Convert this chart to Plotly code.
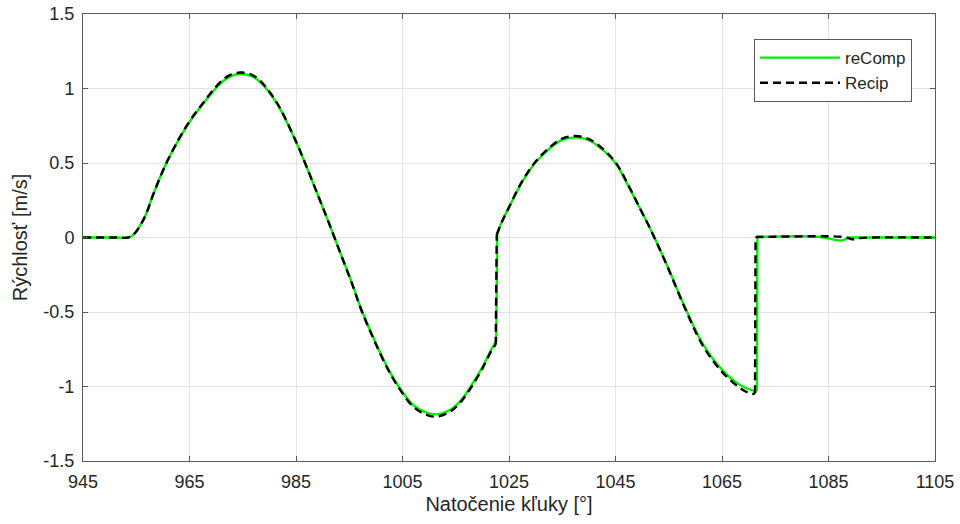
import plotly.graph_objects as go

# Crank angle [deg] and velocity [m/s]
angle_recomp = [945, 951.0, 953.5, 954.5, 956.5, 958.2, 960.4, 962.9, 965.1, 967.6, 970.7, 972.5,
                974.5, 976.5, 978.2, 981.4, 985.0, 987.6, 989.5, 991.1, 993.3, 995.5,
                997.3, 999.5, 1002.0, 1004.2, 1007.0, 1009.5, 1011.4, 1013.9, 1015.8, 1018.0,
                1020.0, 1022.0, 1022.6, 1022.8, 1023.6, 1025.1, 1026.8, 1028.3, 1029.9, 1032.7,
                1035.0, 1037.4, 1039.5, 1041.5, 1045.0, 1047.5, 1049.6, 1051.5, 1054.6, 1058.2,
                1061.5, 1065.1, 1068.4, 1070.9, 1071.55, 1071.65, 1072.3, 1083.0, 1087.5, 1089.0,
                1090.0, 1105]
vel_recomp = [0, 0, 0, 0.02, 0.13, 0.29, 0.48, 0.65, 0.78, 0.90, 1.03, 1.078,
              1.097, 1.085, 1.046, 0.90, 0.643, 0.42, 0.25, 0.105, -0.10, -0.305,
              -0.485, -0.67, -0.86, -0.995, -1.124, -1.176, -1.187, -1.158, -1.10, -0.99,
              -0.87, -0.73, -0.70, 0.02, 0.10, 0.21, 0.33, 0.42, 0.50, 0.60,
              0.655, 0.672, 0.66, 0.62, 0.498, 0.34, 0.195, 0.06, -0.18, -0.48,
              -0.72, -0.89, -0.99, -1.028, -1.03, 0.005, 0.005, 0.005, -0.02, 0.0,
              0.0, 0.0]

angle_recip = [945, 951.0, 953.5, 954.5, 956.5, 958.2, 960.4, 962.9, 965.1, 967.6, 970.7, 972.5,
               974.5, 976.5, 978.2, 981.4, 985.0, 987.6, 989.5, 991.1, 993.3, 995.5,
               997.3, 999.5, 1002.0, 1004.2, 1007.0, 1009.5, 1011.4, 1013.9, 1015.8, 1018.0,
               1020.0, 1022.0, 1022.5, 1022.7, 1023.6, 1025.1, 1026.8, 1028.3, 1029.9, 1032.7,
               1035.0, 1037.4, 1039.5, 1041.5, 1045.0, 1047.5, 1049.6, 1051.5, 1054.6, 1058.2,
               1061.5, 1065.1, 1068.4, 1070.6, 1071.2, 1071.3, 1072.0, 1088.0, 1089.5, 1091.0,
               1093.0, 1105]
vel_recip = [0, 0, 0, 0.02, 0.13, 0.29, 0.48, 0.655, 0.785, 0.905, 1.04, 1.088,
             1.107, 1.095, 1.055, 0.905, 0.645, 0.42, 0.25, 0.105, -0.102, -0.308,
             -0.49, -0.675, -0.867, -1.003, -1.135, -1.19, -1.202, -1.17, -1.11, -1.0,
             -0.88, -0.74, -0.72, 0.02, 0.10, 0.21, 0.335, 0.425, 0.505, 0.607,
             0.664, 0.681, 0.668, 0.628, 0.505, 0.345, 0.195, 0.06, -0.183, -0.487,
             -0.732, -0.905, -1.01, -1.05, -1.045, 0.003, 0.003, 0.003, -0.012, -0.003,
             0.0, 0.0]

x_ticks = [945, 965, 985, 1005, 1025, 1045, 1065, 1085, 1105]
y_ticks = [-1.5, -1, -0.5, 0, 0.5, 1, 1.5]
y_ticklabels = ["-1.5", "-1", "-0.5", "0", "0.5", "1", "1.5"]


def split_at_jumps(xs, ys):
    """Split a series into smooth pieces and the near-vertical jumps between them."""
    pieces, start = [], 0
    for i in range(len(xs) - 1):
        if xs[i + 1] - xs[i] < 0.5 and abs(ys[i + 1] - ys[i]) > 0.3:
            pieces.append(("spline", xs[start:i + 1], ys[start:i + 1]))
            pieces.append(("linear", xs[i:i + 2], ys[i:i + 2]))
            start = i + 1
    pieces.append(("spline", xs[start:], ys[start:]))
    return pieces


fig = go.Figure()
series = [
    ("reComp", angle_recomp, vel_recomp, dict(color="#00ee00", width=2.4)),
    ("Recip", angle_recip, vel_recip, dict(color="#000000", width=2.4, dash="8px,5px")),
]
for name, xs, ys, style in series:
    for k, (shape, px, py) in enumerate(split_at_jumps(xs, ys)):
        fig.add_trace(go.Scatter(
            x=px, y=py, mode="lines", name=name, legendgroup=name,
            showlegend=(k == 0),
            line=dict(shape=shape, smoothing=1.0 if shape == "spline" else None, **style)))

axis_common = dict(showline=True, linecolor="#5a5a5a", linewidth=1, mirror="ticks",
                   ticks="inside", ticklen=5, tickcolor="#5a5a5a", automargin=False,
                   showgrid=True, gridcolor="#e3e3e3", gridwidth=1, zeroline=False,
                   tickfont=dict(family="Liberation Sans, Arial", size=18, color="#262626"))

fig.update_layout(
    width=960, height=524,
    margin=dict(l=83, r=25, t=14, b=63, autoexpand=False),
    paper_bgcolor="white", plot_bgcolor="white",
    font=dict(family="Liberation Sans, Arial", color="#262626"),
    xaxis=dict(range=[945, 1105], tickvals=x_ticks, ticklabelstandoff=4,
               title=dict(text="Natočenie kľuky [°]", font=dict(size=20), standoff=6),
               **axis_common),
    yaxis=dict(range=[-1.5, 1.5], tickvals=y_ticks, ticktext=y_ticklabels,
               ticklabelstandoff=4,
               title=dict(text="Rýchlosť [m/s]", font=dict(size=20), standoff=10),
               **axis_common),
    legend=dict(x=0.973, y=0.944, xanchor="right", yanchor="top",
                bgcolor="white", bordercolor="#5a5a5a", borderwidth=1,
                font=dict(size=17, color="#262626"), itemwidth=80,
                tracegroupgap=0),
    showlegend=True,
)

fig.write_html("out.html")
